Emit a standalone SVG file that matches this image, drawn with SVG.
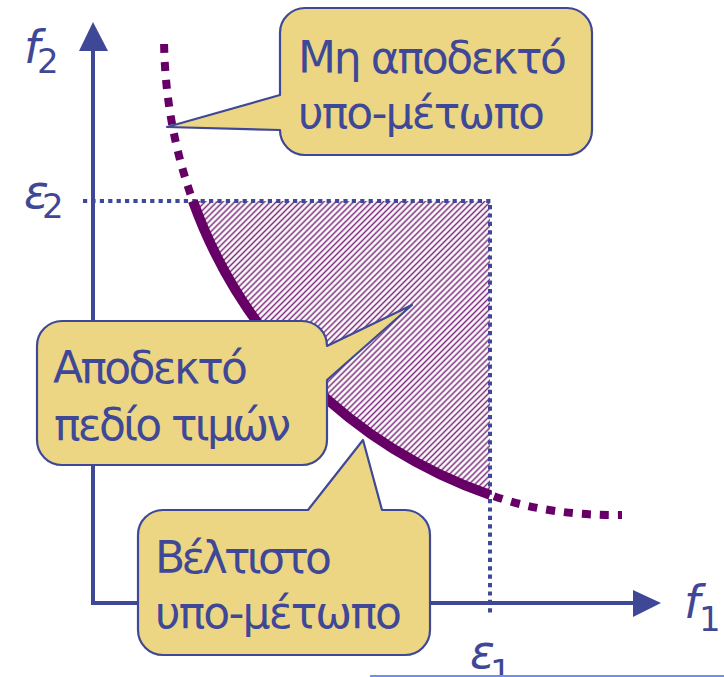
<svg xmlns="http://www.w3.org/2000/svg" width="724" height="677" viewBox="0 0 724 677">
<defs>
<pattern id="hatch" patternUnits="userSpaceOnUse" width="8" height="4.2" patternTransform="rotate(-45)">
<line x1="0" y1="2.1" x2="8" y2="2.1" stroke="#7d2a7d" stroke-width="1.5"/>
</pattern>
<style>
.axis{stroke:#3f4896;stroke-width:4;fill:none}
.head{fill:#3f4896}
.dot{stroke:#3f4896;stroke-width:4;stroke-dasharray:4.2 4.2;fill:none}
.solid{stroke:#660066;stroke-width:10;fill:none}
.dash{stroke:#660066;stroke-width:8;stroke-dasharray:9 9;fill:none}
.call{fill:#ecd683;stroke:#3f4896;stroke-width:2.2;stroke-linejoin:round}
.t{font-family:"DejaVu Sans","Liberation Sans",sans-serif;font-size:44px;fill:#3f4896}
.lab{font-family:"DejaVu Sans","Liberation Sans",sans-serif;fill:#3f4896;font-size:34px}
.it{font-style:italic;font-size:46px}
</style>
</defs>
<path d="M192.9,201 L490,201 L490,494.9 A486,486 0 0 1 192.9,201 Z" fill="url(#hatch)"/>
<g id="connectors">
<line class="axis" x1="93" y1="605" x2="93" y2="48"/>
<polygon class="head" points="93,22 79,51 108,51"/>
<line class="axis" x1="91" y1="603" x2="636" y2="603"/>
<polygon class="head" points="661,603 633,590 633,617"/>
<line class="dot" x1="83" y1="201" x2="492" y2="201"/>
<line class="dot" x1="490" y1="205" x2="490" y2="614"/>
<path class="dash" d="M164.1,44 A486,486 0 0 0 192.9,201"/>
<path class="solid" d="M192.9,201 A486,486 0 0 0 490,494.9"/>
<path class="dash" d="M494,496.2 Q550,516 622,515"/>
</g>
<g id="callout-unacceptable">
<path class="call" d="M305,8 H567 A25,25 0 0 1 592,33 V130 A25,25 0 0 1 567,155 H305 A25,25 0 0 1 280,130 L167,127 L280,95 V33 A25,25 0 0 1 305,8 Z"/>
<text class="t" x="298" y="73" textLength="269" lengthAdjust="spacing">Μη αποδεκτό</text>
<text class="t" x="298" y="128" textLength="247" lengthAdjust="spacing">υπο-μέτωπο</text>
</g>
<g id="callout-feasible">
<path class="call" d="M62,321 H302 A25,25 0 0 1 327,346 L412,305 L327,380 V440 A25,25 0 0 1 302,465 H62 A25,25 0 0 1 37,440 V346 A25,25 0 0 1 62,321 Z"/>
<text class="t" x="53" y="383" textLength="195" lengthAdjust="spacing">Αποδεκτό</text>
<text class="t" x="54" y="440" textLength="237" lengthAdjust="spacing">πεδίο τιμών</text>
</g>
<g id="callout-optimal">
<path class="call" d="M163,510 H308 L363,440 L382,510 H405 A25,25 0 0 1 430,535 V630 A25,25 0 0 1 405,655 H163 A25,25 0 0 1 138,630 V535 A25,25 0 0 1 163,510 Z"/>
<text class="t" x="155" y="573" textLength="177" lengthAdjust="spacing">Βέλτιστο</text>
<text class="t" x="155" y="628" textLength="247" lengthAdjust="spacing">υπο-μέτωπο</text>
</g>
<g id="labels">
<text class="lab" x="24" y="63"><tspan class="it">f</tspan><tspan x="37" dy="10">2</tspan></text>
<text class="lab" x="684" y="618"><tspan class="it">f</tspan><tspan x="699" dy="13">1</tspan></text>
<text class="lab" x="24" y="208"><tspan class="it">ε</tspan><tspan x="42" dy="10">2</tspan></text>
<text class="lab" x="470" y="668"><tspan class="it">ε</tspan><tspan x="490" dy="16">1</tspan></text>
</g>
<line x1="370" y1="676" x2="724" y2="676" stroke="#6f8fe8" stroke-width="2"/>
</svg>
